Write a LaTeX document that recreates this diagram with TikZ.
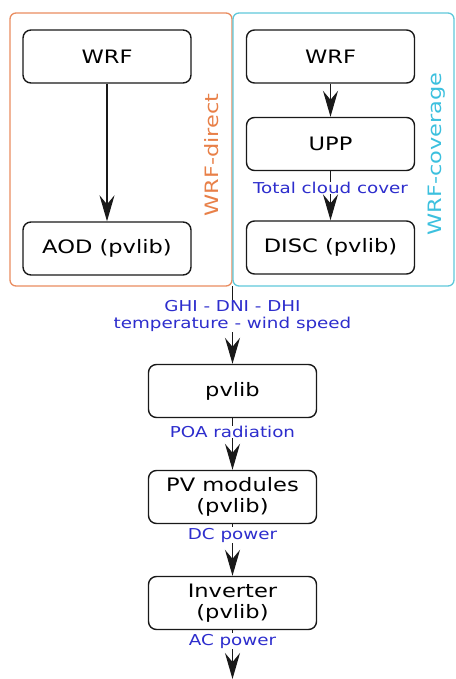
\documentclass[tikz,border=0pt]{standalone}
\usepackage{fontspec}
\setmainfont{DejaVu Sans}[FakeStretch=1.22]
\usetikzlibrary{arrows.meta}
\definecolor{orng}{RGB}{233,140,95}
\definecolor{orngtxt}{RGB}{232,128,72}
\definecolor{cyn}{RGB}{95,200,218}
\definecolor{cyntxt}{RGB}{60,192,222}
\definecolor{lblue}{RGB}{45,45,205}
\begin{document}
\begin{tikzpicture}[x=1pt,y=-1pt,
  box/.style={draw=black!90, line width=1.4pt, rounded corners=8pt, minimum width=168pt, minimum height=53pt, align=center, font=\fontsize{18.5}{21}\selectfont, inner sep=0pt},
  lbl/.style={text=lblue, font=\fontsize{15}{17.5}\selectfont, fill=white, inner sep=0.4pt, align=center},
  side/.style={rotate=90, font=\fontsize{18.4}{20}\selectfont, inner sep=0pt},
  arr/.style={-{Stealth[length=26pt,width=15pt,inset=9pt]}, line width=1.1pt, black!90},
  cont/.style={line width=1.3pt, rounded corners=6pt}
  ]
\useasboundingbox (0,0) rectangle (455,679);
% containers
\draw[cont, orng] (10,13) rectangle (232,286);
\draw[cont, cyn] (233,13) rectangle (454,286);
\node[side, text=orngtxt] (ld) at (212,155) {WRF-direct};
\node[side, text=cyntxt] (lc) at (437,154) {WRF-coverage};
% left branch
\node[box] (wrf1) at (107,56.5) {WRF};
\node[box] (aod) at (107,248.5) {AOD (pvlib)};
\draw[arr] (wrf1) -- (aod);
% right branch
\node[box] (wrf2) at (330.5,56.5) {WRF};
\node[box] (upp) at (330.5,144) {UPP};
\node[box] (disc) at (330.5,247.5) {DISC (pvlib)};
\draw[arr] (wrf2) -- (upp);
\draw[arr] (upp) -- (disc);
\node[lbl] (tcc) at (330.5,188) {Total cloud cover};
% chain
\coordinate (m) at (232.5,286);
\node[box] (pv) at (232.5,391) {pvlib};
\node[box] (mod) at (232.5,497) {PV modules\\(pvlib)};
\node[box] (inv) at (232.5,603) {Inverter\\(pvlib)};
\coordinate (e) at (232.5,679);
\draw[arr] (m) -- (pv);
\draw[arr] (pv) -- (mod);
\draw[arr] (mod) -- (inv);
\draw[arr] (inv) -- (e);
\node[lbl] (met) at (232.5,316) {GHI - DNI - DHI\\temperature - wind speed};
\node[lbl] (poa) at (232.5,432) {POA radiation};
\node[lbl] (dc) at (232.5,535) {DC power};
\node[lbl] (ac) at (232.5,641) {AC power};
\end{tikzpicture}
\end{document}
